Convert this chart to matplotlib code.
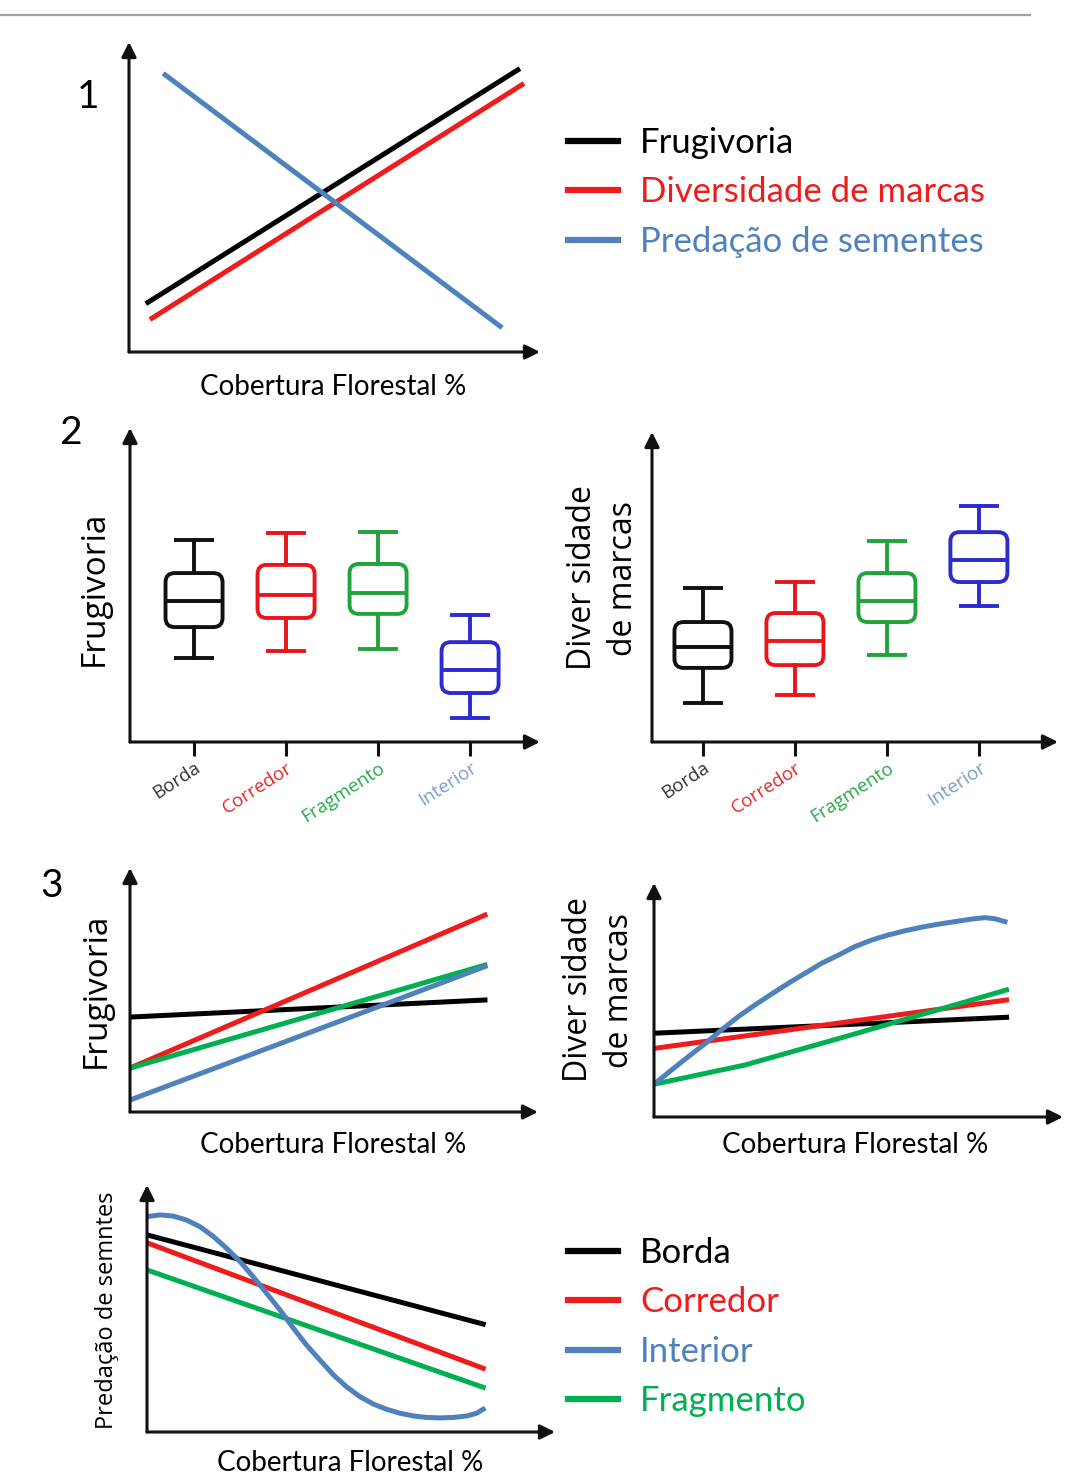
import matplotlib.pyplot as plt
from matplotlib.patches import FancyBboxPatch
from matplotlib.lines import Line2D

W, H = 1065, 1475

# --- valores (escala 0-100 nos dois eixos) ---
# painel 1: tendencias gerais
cob1_frug = [4.6, 94.6]
frug1 = [16.0, 91.0]
cob1_div = [5.6, 95.6]
div1 = [10.9, 86.2]
cob1_pred = [8.8, 90.3]
pred1 = [89.4, 8.3]

# painel 2: boxplots por habitat
habitats = ['Borda', 'Corredor', 'Fragmento', 'Interior']
pos = [1, 2, 3, 4]
frug_whislo = [26.8, 29.0, 29.6, 7.6]
frug_q1 = [36.6, 39.5, 40.8, 15.6]
frug_med = [44.9, 46.8, 47.5, 22.9]
frug_q3 = [53.8, 56.4, 56.7, 31.8]
frug_whishi = [64.3, 66.6, 66.9, 40.4]

div_whislo = [12.6, 15.2, 28.1, 43.9]
div_q1 = [23.9, 24.8, 38.7, 51.6]
div_med = [30.6, 32.6, 45.5, 58.7]
div_q3 = [38.7, 41.6, 54.5, 67.7]
div_whishi = [49.7, 51.6, 64.8, 76.1]

# painel 3: frugivoria x cobertura
cob3 = [0, 87]
frug3_borda = [38.9, 45.9]
frug3_corredor = [18.0, 80.7]
frug3_fragmento = [18.0, 60.2]
frug3_interior = [4.9, 59.6]

# painel 3: diversidade de marcas x cobertura
cob3d = [0, 86.2]
div3_borda = [35.8, 42.6]
div3_corredor = [29.3, 50.0]
cob3d_frag = [0, 22.2, 46.7, 86.2]
div3_fragmento = [14.0, 22.2, 34.3, 54.3]
cob3d_int = [0, 4.3, 8.4, 12.6, 16.5, 20.6, 24.7, 28.8, 32.8, 36.9, 41.0, 45.1,
             49.1, 53.2, 57.3, 61.4, 65.4, 69.5, 73.6, 77.7, 80.9, 83.4, 85.8]
div3_interior = [14.0, 20.1, 25.8, 31.5, 37.2, 42.9, 47.9, 52.6, 57.1, 61.4, 65.7, 69.2,
                 72.8, 75.6, 77.8, 79.6, 81.1, 82.4, 83.5, 84.6, 85.2, 84.7, 83.5]

# painel 3: predacao de sementes x cobertura
cob3p = [0, 82.4]
pred3_borda = [79.8, 43.7]
pred3_corredor = [76.6, 25.8]
pred3_fragmento = [65.6, 18.1]
cob3p_int = [0, 3.2, 6.5, 9.7, 13.0, 16.3, 19.5, 22.8, 26.0, 29.3, 32.6, 35.9, 39.1, 42.4,
             45.7, 48.9, 52.2, 55.5, 58.7, 62.0, 65.3, 68.5, 71.8, 75.1, 78.4, 80.8, 82.4]
pred3_interior = [87.2, 87.9, 87.4, 85.8, 83.1, 79.1, 74.4, 69.0, 62.9, 56.2, 49.4, 42.0,
                  35.2, 29.1, 23.1, 18.3, 14.3, 11.3, 9.2, 7.6, 6.5, 5.9, 5.7, 5.9, 6.5,
                  7.6, 9.2]

# cores
PRETO = '#000000'
VERMELHO = '#ee1c1c'
AZUL = '#4f81bd'
VERDE = '#00b050'
box_cores = ['#111111', '#e8161b', '#1fa33a', '#2b2bd0']
tick_cores = ['#333333', '#e8262b', '#2aa84a', '#7b9bd3']

LW_EIXO = 2.2
LW_LINHA = 3.6
FONTE = ['Lato', 'DejaVu Sans']
FONTE_Y = ['Open Sans', 'DejaVu Sans']

fig = plt.figure(figsize=(W / 100, H / 100), dpi=100)


def px_axes(x0, y_top, x1, y_bot, xlim=(0, 100), ylim=(0, 100)):
    ax = fig.add_axes([x0 / W, 1 - y_bot / H, (x1 - x0) / W, (y_bot - y_top) / H])
    ax.set_xlim(*xlim)
    ax.set_ylim(*ylim)
    for s in ax.spines.values():
        s.set_visible(False)
    ax.set_xticks([])
    ax.set_yticks([])
    ax.patch.set_alpha(0)
    # eixos com seta
    for tip in [(1, 0), (0, 1)]:
        ax.annotate('', xy=tip, xytext=(0, 0), xycoords='axes fraction',
                    arrowprops=dict(arrowstyle='-|>', lw=LW_EIXO, color='#111111',
                                    mutation_scale=22, shrinkA=0, shrinkB=0))
    return ax


def fig_text(x, y, s, **kw):
    fig.text(x / W, 1 - y / H, s, **kw)


def legenda(ax, handles, top):
    leg = ax.legend(handles=handles, loc='upper left',
                    bbox_to_anchor=(568 / W, 1 - top / H),
                    bbox_transform=fig.transFigure, frameon=False, borderpad=0,
                    borderaxespad=0, handlelength=1.44, handletextpad=0.63,
                    labelspacing=0.5, labelcolor='linecolor',
                    prop={'family': FONTE, 'size': 25})
    for l in leg.get_lines():
        l.set_linewidth(4.5)
    return leg


# linha cinza no topo
fig.add_artist(Line2D([0, 1030 / W], [1 - 15 / H] * 2, color='#a0a0a0', lw=1.6,
                      transform=fig.transFigure))

# ---------------- painel 1 ----------------
ax1 = px_axes(129, 42, 540, 352)
h1, = ax1.plot(cob1_frug, frug1, color=PRETO, lw=LW_LINHA, label='Frugivoria')
h2, = ax1.plot(cob1_div, div1, color=VERMELHO, lw=LW_LINHA, label='Diversidade de marcas')
h3, = ax1.plot(cob1_pred, pred1, color=AZUL, lw=LW_LINHA, label='Predação de sementes')
legenda(ax1, [h1, h2, h3], 127)
fig_text(333, 387, 'Cobertura Florestal %', ha='center', va='center', family=FONTE, size=20)
fig_text(88, 97, '1', ha='center', va='center', family=FONTE, size=28)


# ---------------- painel 2 ----------------
def boxes(ax, whislo, q1, med, q3, whishi):
    bb = ax.get_position()
    xl, yl = ax.get_xlim(), ax.get_ylim()
    px_x = bb.width * W / (xl[1] - xl[0])
    px_y = bb.height * H / (yl[1] - yl[0])
    for i, p in enumerate(pos):
        stats = [dict(med=med[i], q1=q1[i], q3=q3[i], whislo=whislo[i],
                      whishi=whishi[i], fliers=[])]
        c = box_cores[i]
        ax.bxp(stats, positions=[p], widths=0.62, capwidths=0.43, showbox=False,
               showfliers=False, manage_ticks=False,
               medianprops=dict(color=c, lw=2.8),
               whiskerprops=dict(color=c, lw=2.8),
               capprops=dict(color=c, lw=2.8, solid_capstyle='butt'))
        ax.add_patch(FancyBboxPatch((p - 0.31, q1[i]), 0.62, q3[i] - q1[i],
                                    boxstyle='round,pad=0,rounding_size=0.1',
                                    mutation_aspect=px_x / px_y,
                                    fc='none', ec=c, lw=2.8))
    ax.set_xticks(pos)
    ax.set_xticklabels(habitats, rotation=33, ha='right', va='top',
                       rotation_mode='anchor', family=FONTE_Y, size=13.5)
    for t, c in zip(ax.get_xticklabels(), tick_cores):
        t.set_color(c)
    ax.tick_params(axis='x', length=10, width=2.2, direction='out', pad=2, color='#111111')


ax2a = px_axes(130, 428, 540, 742, xlim=(0.304, 4.76))
boxes(ax2a, frug_whislo, frug_q1, frug_med, frug_q3, frug_whishi)
fig_text(94, 588, 'Frugivoria', ha='center', va='center', rotation=90, family=FONTE_Y, size=24)
fig_text(70, 433, '2', ha='center', va='center', family=FONTE, size=28)

ax2b = px_axes(652, 432, 1058, 742, xlim=(0.446, 4.86))
boxes(ax2b, div_whislo, div_q1, div_med, div_q3, div_whishi)
fig_text(603, 578, 'Diver sidade\nde marcas', ha='center', va='center', rotation=90,
         family=FONTE_Y, size=23, linespacing=1.3)

# ---------------- painel 3 ----------------
ax3a = px_axes(130, 868, 538, 1112)
ax3a.plot(cob3, frug3_borda, color=PRETO, lw=LW_LINHA)
ax3a.plot(cob3, frug3_corredor, color=VERMELHO, lw=LW_LINHA)
ax3a.plot(cob3, frug3_fragmento, color=VERDE, lw=LW_LINHA)
ax3a.plot(cob3, frug3_interior, color=AZUL, lw=LW_LINHA)
fig_text(96, 990, 'Frugivoria', ha='center', va='center', rotation=90, family=FONTE_Y, size=24)
fig_text(333, 1145, 'Cobertura Florestal %', ha='center', va='center', family=FONTE, size=20)
fig_text(52, 886, '3', ha='center', va='center', family=FONTE, size=28)

ax3b = px_axes(654, 883, 1063, 1117)
ax3b.plot(cob3d, div3_borda, color=PRETO, lw=LW_LINHA)
ax3b.plot(cob3d, div3_corredor, color=VERMELHO, lw=LW_LINHA)
ax3b.plot(cob3d_frag, div3_fragmento, color=VERDE, lw=LW_LINHA, solid_joinstyle='round')
ax3b.plot(cob3d_int, div3_interior, color=AZUL, lw=LW_LINHA, solid_joinstyle='round')
fig_text(599, 990, 'Diver sidade\nde marcas', ha='center', va='center', rotation=90,
         family=FONTE_Y, size=23, linespacing=1.3)
fig_text(855, 1145, 'Cobertura Florestal %', ha='center', va='center', family=FONTE, size=20)

ax3c = px_axes(147, 1185, 555, 1432)
lb, = ax3c.plot(cob3p, pred3_borda, color=PRETO, lw=LW_LINHA, label='Borda')
lc, = ax3c.plot(cob3p, pred3_corredor, color=VERMELHO, lw=LW_LINHA, label='Corredor')
lf, = ax3c.plot(cob3p, pred3_fragmento, color=VERDE, lw=LW_LINHA, label='Fragmento')
li, = ax3c.plot(cob3p_int, pred3_interior, color=AZUL, lw=LW_LINHA, label='Interior',
                solid_joinstyle='round')
legenda(ax3c, [lb, lc, li, lf], 1237)
fig_text(107, 1310, 'Predação de semntes', ha='center', va='center', rotation=90,
         family=FONTE_Y, size=17)
fig_text(350, 1463, 'Cobertura Florestal %', ha='center', va='center', family=FONTE, size=20)

fig.savefig('out.png', dpi=100)
